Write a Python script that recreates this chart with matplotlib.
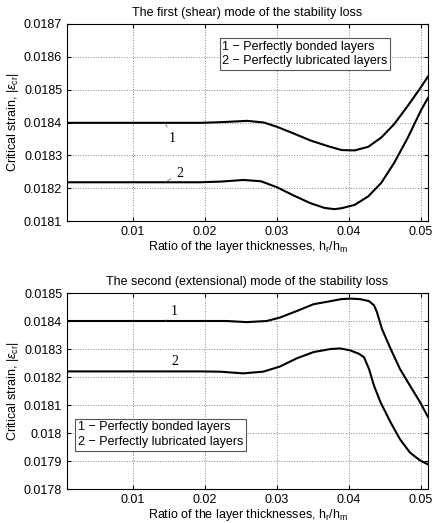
import numpy as np
import matplotlib
matplotlib.use("Agg")
import matplotlib.pyplot as plt

plt.rcParams["font.family"] = "Liberation Sans"
plt.rcParams["mathtext.fontset"] = "custom"
plt.rcParams["mathtext.rm"] = "Liberation Sans"
plt.rcParams["mathtext.it"] = "Liberation Sans:italic"

# ratio of layer thicknesses h_r / h_m, first (shear) mode
x_shear_bonded = [0.001, 0.005, 0.01, 0.015, 0.0194, 0.0222, 0.0259, 0.0282, 0.030,
                  0.0324, 0.0347, 0.0371, 0.0390, 0.0408, 0.0427, 0.0445, 0.0463,
                  0.0482, 0.0500, 0.051]
shear_bonded = [0.018399, 0.018399, 0.018399, 0.018399, 0.018399, 0.018401, 0.018405,
                0.018400, 0.018387, 0.018366, 0.018345, 0.018328, 0.018316, 0.018315,
                0.018326, 0.018354, 0.018395, 0.018451, 0.018507, 0.018540]
x_shear_lubricated = [0.001, 0.005, 0.01, 0.015, 0.0194, 0.0222, 0.0254, 0.0278, 0.030,
                      0.0324, 0.0347, 0.0366, 0.0380, 0.0390, 0.0408, 0.0427, 0.0445,
                      0.0463, 0.0482, 0.0500, 0.051]
shear_lubricated = [0.018218, 0.018218, 0.018218, 0.018218, 0.018218, 0.018220, 0.018225,
                    0.018221, 0.018203, 0.018177, 0.018154, 0.018140, 0.018136, 0.018139,
                    0.018149, 0.018175, 0.018216, 0.018277, 0.018354, 0.018436, 0.018475]

# second (extensional) mode
x_ext_bonded = [0.001, 0.005, 0.01, 0.015, 0.0193, 0.0230, 0.0258, 0.0286, 0.0304,
                0.0328, 0.0351, 0.0375, 0.0389, 0.0402, 0.0416, 0.0428, 0.0435,
                0.0439, 0.0446, 0.0458, 0.0471, 0.0485, 0.0499, 0.051]
ext_bonded = [0.018400, 0.018400, 0.018400, 0.018400, 0.018400, 0.018400, 0.018396,
              0.018400, 0.018412, 0.018436, 0.018460, 0.018471, 0.018478, 0.018480,
              0.018478, 0.018471, 0.018456, 0.018432, 0.018372, 0.018301, 0.018229,
              0.018169, 0.018110, 0.018057]
x_ext_lubricated = [0.001, 0.005, 0.01, 0.015, 0.0193, 0.0221, 0.0253, 0.0281, 0.0304,
                    0.0328, 0.0351, 0.0375, 0.0388, 0.0402, 0.0414, 0.0421, 0.0428,
                    0.0435, 0.0444, 0.0458, 0.0471, 0.0485, 0.0499, 0.051]
ext_lubricated = [0.018220, 0.018220, 0.018220, 0.018220, 0.018220, 0.018219, 0.018213,
                  0.018219, 0.018237, 0.018267, 0.018289, 0.018300, 0.018302, 0.018295,
                  0.018283, 0.018271, 0.018229, 0.018169, 0.018110, 0.018038, 0.017978,
                  0.017930, 0.017902, 0.017888]

x_ticks = [0.01, 0.02, 0.03, 0.04, 0.05]
x_ticklabels = ["0.01", "0.02", "0.03", "0.04", "0.05"]
yticks_shear = [0.0181, 0.0182, 0.0183, 0.0184, 0.0185, 0.0186, 0.0187]
yticks_ext = [0.0178, 0.0179, 0.018, 0.0181, 0.0182, 0.0183, 0.0184, 0.0185]

legend_lines = ["1 \u2212 Perfectly bonded layers", "2 \u2212 Perfectly lubricated layers"]

W, H = 432, 523
fig = plt.figure(figsize=(W / 100, H / 100), dpi=100)
ax1 = fig.add_axes([67 / W, 1 - 221 / H, 361 / W, 197 / H])
ax2 = fig.add_axes([67 / W, 1 - 489 / H, 361 / W, 196 / H])


def style_axes(ax, yticks, title):
    ax.set_xlim(0.00085, 0.051)
    ax.set_ylim(yticks[0], yticks[-1])
    ax.set_xticks(x_ticks)
    ax.set_xticklabels(x_ticklabels)
    ax.set_yticks(yticks)
    ax.set_yticklabels([f"{v:g}" for v in yticks])
    ax.tick_params(direction="in", length=3, labelsize=9, top=True, right=True)
    ax.grid(True, color="#888888", linestyle=":", linewidth=0.7)
    ax.set_title(title, fontsize=9, pad=6)
    ax.set_xlabel(r"Ratio of the layer thicknesses, h$_\mathregular{r}$/h$_\mathregular{m}$",
                  fontsize=9, labelpad=1)
    ax.set_ylabel(r"Critical strain, |$\varepsilon_{\mathregular{cr}}$|", fontsize=9, labelpad=2)
    for s in ax.spines.values():
        s.set_linewidth(0.8)


def legend_box(ax, x, y):
    txt = "\n".join(legend_lines)
    ax.text(x, y, txt, transform=ax.transAxes, fontsize=9, va="top", ha="left",
            linespacing=1.3,
            bbox=dict(boxstyle="square,pad=0.2", fc="white", ec="#555555", lw=0.8))


def curve_label(ax, text, xy, xytext):
    ax.annotate(text, xy=xy, xytext=xytext, fontsize=10, family="Liberation Serif",
                ha="center", va="center",
                arrowprops=dict(arrowstyle="-", lw=0.5, color="#555555",
                                shrinkA=2, shrinkB=0))


ax1.plot(x_shear_bonded, shear_bonded, color="black", lw=1.5)
ax1.plot(x_shear_lubricated, shear_lubricated, color="black", lw=1.5)
style_axes(ax1, yticks_shear, "The first (shear) mode of the stability loss")
legend_box(ax1, 0.43, 0.915)
curve_label(ax1, "1", (0.0145, shear_bonded[3]), (0.0155, 0.01835))
curve_label(ax1, "2", (0.0145, shear_lubricated[3]), (0.0165, 0.018245))

ax2.plot(x_ext_bonded, ext_bonded, color="black", lw=1.5)
ax2.plot(x_ext_lubricated, ext_lubricated, color="black", lw=1.5)
style_axes(ax2, yticks_ext, "The second (extensional) mode of the stability loss")
legend_box(ax2, 0.03, 0.345)
curve_label(ax2, "1", (0.0145, ext_bonded[3]), (0.0158, 0.018435))
curve_label(ax2, "2", (0.0145, ext_lubricated[3]), (0.0158, 0.018255))

fig.savefig("out.png", dpi=100)
